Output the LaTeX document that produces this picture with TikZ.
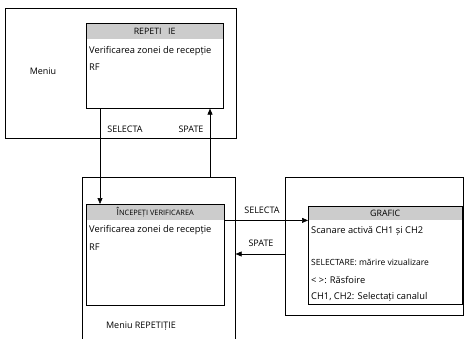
\documentclass[tikz,border=0pt]{standalone}
\usepackage{fontspec}
\setmainfont{Open Sans}
\usetikzlibrary{arrows.meta}
\begin{document}
\begin{tikzpicture}[x=1pt,y=-1pt,
  frame/.style={draw,line width=0.6pt,inner sep=0pt,anchor=north west},
  screen/.style={draw,line width=0.6pt,inner sep=0pt,anchor=north west},
  head/.style={fill=black!20,inner sep=0pt,anchor=north west,
    minimum height=16pt,font=\fontsize{8.8}{10}\selectfont},
  border/.style={draw,line width=0.6pt},
  txt/.style={anchor=west,inner sep=0pt,font=\fontsize{9.3}{11}\selectfont},
  small/.style={anchor=west,inner sep=0pt,font=\fontsize{8.5}{10}\selectfont},
  lbl/.style={inner sep=0pt,font=\fontsize{9}{10}\selectfont},
  arr/.style={line width=0.6pt,-{Triangle[length=6pt,width=5pt]}}]
\useasboundingbox (0,0) rectangle (465,339);
\begin{scope}
\clip (0,0) rectangle (465,339);
% outer frames
\node[frame,minimum width=231pt,minimum height=130pt] (m1) at (5,8) {};
\node[frame,minimum width=153pt,minimum height=200pt] (m2) at (82,177) {};
\node[frame,minimum width=178pt,minimum height=138pt] (m3) at (285,177) {};
\end{scope}
% menu screens
\node[screen,minimum width=137pt,minimum height=85pt] (s1) at (86,23) {};
\node[head,minimum width=137pt] (h1) at (s1.north west) {REPETI\hspace{0.75em}IE\hspace{17pt}};
\draw[border] (s1.north west) rectangle (s1.south east);
\node[txt] (t11) at (89,51) {Verificarea zonei de recepție};
\node[txt] (t12) at (89,67) {RF};
\node[lbl] (n1) at (43,71) {Meniu};

\node[screen,minimum width=138pt,minimum height=101pt] (s2) at (86,204) {};
\node[head,minimum width=138pt] (h2) at (s2.north west)
  {Î{\fontsize{7.4}{8}\selectfont NCEPEȚI VERIFICAREA}};
\draw[border] (s2.north west) rectangle (s2.south east);
\node[txt] (t21) at (89,230) {Verificarea zonei de recepție};
\node[txt] (t22) at (89,247) {RF};
\node[lbl] (n2) at (141,326) {Meniu REPETIȚIE};

\node[screen,minimum width=154pt,minimum height=98pt] (s3) at (308,206) {};
\node[head,minimum width=154pt,minimum height=14pt] (h3) at (s3.north west) {GRAFIC\hspace{28pt}};
\draw[border] (s3.north west) rectangle (s3.south east);
\node[txt] (t31) at (311,231) {Scanare activă CH1 și CH2};
\node[small] (t32) at (311,262) {SELECTARE: mărire vizualizare};
\node[txt] (t33) at (311,280) {< >: Răsfoire};
\node[txt] (t34) at (311,297) {CH1, CH2: Selectați canalul};

% navigation
\draw[arr] ([xshift=14pt]s1.south west) -- ([xshift=14pt]s2.north west);
\draw[arr] ([xshift=128pt]m2.north west) -- ([xshift=124pt]s1.north west |- s1.south);
\node[lbl] (l1) at (125,129) {SELECTA};
\node[lbl] (l2) at (191,129) {SPATE};
\draw[arr] (h2.south east) -- (h3.south west);
\draw[arr] ([yshift=-77pt]m3.north west) -- ([yshift=-77pt]m2.north east);
\node[lbl] (l3) at (262,210) {SELECTA};
\node[lbl] (l4) at (261,243) {SPATE};
\end{tikzpicture}
\end{document}
